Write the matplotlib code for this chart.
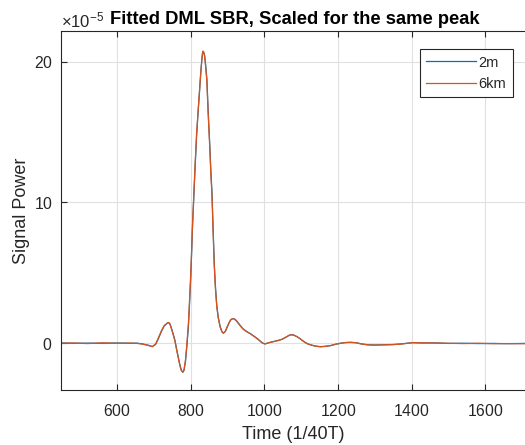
import matplotlib
matplotlib.use("Agg")
import matplotlib.pyplot as plt
from matplotlib.ticker import ScalarFormatter

plt.rcParams['font.family'] = ['Liberation Sans', 'DejaVu Sans']
plt.rcParams['axes.formatter.use_mathtext'] = True
plt.rcParams['axes.unicode_minus'] = False
plt.rcParams['mathtext.fontset'] = 'custom'
plt.rcParams['mathtext.rm'] = 'Liberation Sans'

# Time samples (1/40T) and signal power values (in units of 1e-5)
time = [448, 480, 520, 560, 600, 640, 655, 670, 685, 696, 705, 712, 720, 728,
        736, 740, 744, 750, 757, 763, 767, 771, 775, 779, 782, 786, 790, 794,
        797, 800, 803, 805, 808, 812, 816, 820, 824, 826, 828, 831, 833, 835,
        838, 841, 844, 848, 852, 855, 858, 861, 864, 867, 871, 875, 880, 885,
        889, 894, 899, 904, 909, 914, 918, 924, 930, 936, 942, 948, 955, 962,
        969, 976, 983, 990, 996, 1002, 1010, 1018, 1025, 1035, 1048, 1060,
        1067, 1073, 1080, 1088, 1097, 1105, 1113, 1120, 1130, 1140, 1152, 1165,
        1180, 1195, 1207, 1220, 1235, 1249, 1265, 1280, 1294, 1310, 1330, 1348,
        1370, 1390, 1403, 1430, 1460, 1500, 1540, 1580, 1620, 1660, 1708]

sig_6km = [0.00, 0.02, -0.02, 0.03, 0.00, 0.01, -0.01, -0.06, -0.15, -0.24,
           -0.05, 0.35, 0.85, 1.25, 1.42, 1.47, 1.35, 0.85, 0.20, -0.60, -1.10,
           -1.60, -1.95, -2.06, -1.90, -1.20, 0.00, 1.42, 3.00, 4.70, 6.80, 8.40,
           10.2, 12.6, 14.8, 16.4, 17.9, 18.67, 19.4, 20.3, 20.75, 20.7, 20.4,
           19.6, 18.67, 16.1, 13.9, 12.0, 10.5, 8.0, 5.6, 4.0, 2.6, 1.8, 1.18,
           0.82, 0.71, 0.85, 1.15, 1.45, 1.68, 1.75, 1.73, 1.60, 1.40, 1.20,
           1.02, 0.90, 0.78, 0.68, 0.55, 0.42, 0.28, 0.12, 0.00, -0.05, 0.02,
           0.08, 0.12, 0.18, 0.28, 0.45, 0.56, 0.61, 0.58, 0.48, 0.33, 0.16,
           0.02, -0.07, -0.15, -0.21, -0.25, -0.22, -0.17, -0.06, 0.00, 0.05,
           0.07, 0.04, -0.06, -0.11, -0.13, -0.12, -0.11, -0.10, -0.06, 0.00,
           0.05, 0.03, 0.02, 0.00, -0.02, 0.00, -0.03, -0.02, -0.03]

sig_2m = [0.02, 0.00, 0.01, 0.00, 0.02, 0.00, 0.01, -0.05, -0.14, -0.23,
          -0.08, 0.30, 0.80, 1.22, 1.42, 1.48, 1.38, 0.90, 0.25, -0.55, -1.05,
          -1.55, -1.92, -2.05, -1.92, -1.30, -0.15, 1.20, 2.80, 4.50, 6.60, 8.20,
          10.0, 12.4, 14.6, 16.3, 17.8, 18.6, 19.35, 20.3, 20.72, 20.72, 20.45,
          19.7, 18.8, 16.3, 14.1, 12.2, 10.7, 8.2, 5.8, 4.2, 2.7, 1.85, 1.20,
          0.82, 0.72, 0.83, 1.12, 1.43, 1.66, 1.75, 1.74, 1.62, 1.42, 1.22,
          1.04, 0.91, 0.79, 0.69, 0.56, 0.43, 0.29, 0.13, 0.01, -0.04, 0.02,
          0.08, 0.12, 0.18, 0.28, 0.45, 0.56, 0.61, 0.58, 0.48, 0.33, 0.17,
          0.03, -0.06, -0.14, -0.20, -0.24, -0.22, -0.16, -0.06, 0.00, 0.05,
          0.06, 0.04, -0.05, -0.10, -0.12, -0.12, -0.10, -0.09, -0.05, 0.01,
          0.04, 0.02, 0.03, -0.01, 0.00, -0.02, -0.01, -0.03, -0.01]

x_ticks = [600, 800, 1000, 1200, 1400, 1600]
y_ticks = [0, 10, 20]
series_labels = ["2m", "6km"]
title = "Fitted DML SBR, Scaled for the same peak"
scale = 1e-5

TXT = '#262626'
W, H = 525, 445
fig = plt.figure(figsize=(W / 100, H / 100), dpi=100)
ax = fig.add_axes([61 / W, (H - 390.3) / H, 1 - 61 / W, (390.3 - 31.3) / H])

ax.plot(time, [v * scale for v in sig_2m], color='#0072BD', lw=0.9, label=series_labels[0])
ax.plot(time, [v * scale for v in sig_6km], color='#D95319', lw=0.9, label=series_labels[1])

ax.set_xlim(448, 1708)
ax.set_ylim(-3.34e-5, 22.16e-5)
ax.set_xticks(x_ticks)
ax.set_yticks([t * scale for t in y_ticks])

fmt = ScalarFormatter(useMathText=True)
fmt.set_powerlimits((-5, -5))
ax.yaxis.set_major_formatter(fmt)
ax.yaxis.get_offset_text().set_fontsize(12)
ax.yaxis.get_offset_text().set_color(TXT)

ax.grid(True, color='#e0e0e0', lw=0.8)
ax.set_axisbelow(True)
ax.tick_params(direction='in', length=4.5, width=0.8, colors=TXT, labelsize=11.3,
               top=True, right=False)
ax.tick_params(axis='x', pad=9)
ax.tick_params(axis='y', pad=6)
for s in ['left', 'bottom', 'top']:
    ax.spines[s].set_color(TXT)
    ax.spines[s].set_linewidth(0.8)
ax.spines['right'].set_visible(False)

ax.set_xlabel("Time (1/40T)", fontsize=13, color=TXT, labelpad=5)
ax.set_ylabel("Signal Power", fontsize=13, color=TXT, labelpad=3)

fig.text(294.5 / W, (H - 23.5) / H, title, fontsize=13.2, fontweight='bold',
         ha='center', va='baseline', color='black')

leg = ax.legend(loc='upper right', bbox_to_anchor=(513 / W, (H - 49) / H),
                bbox_transform=fig.transFigure, borderaxespad=0, fontsize=10.5,
                fancybox=False, framealpha=1, edgecolor=TXT, handlelength=3.4,
                handletextpad=0.2, borderpad=0.45, labelspacing=0.5)
leg.get_frame().set_linewidth(0.8)
for t in leg.get_texts():
    t.set_color(TXT)

fig.savefig("out.png", dpi=100)
